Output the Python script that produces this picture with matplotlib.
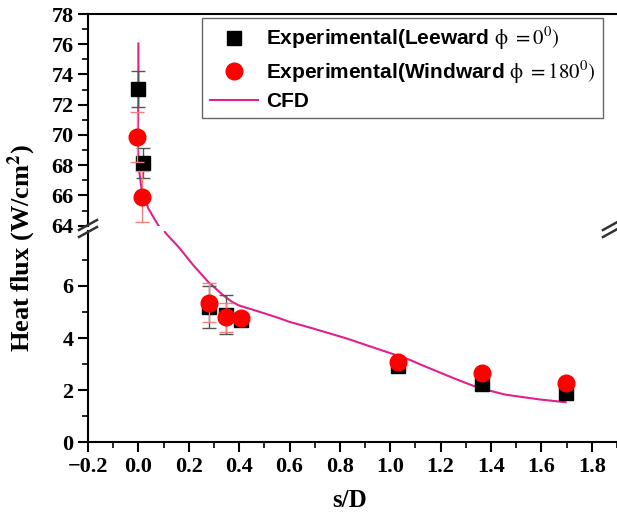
import numpy as np
import matplotlib.pyplot as plt
from matplotlib.lines import Line2D

# measured heat flux vs. s/D
s_lee = [0.0, 0.017, 0.279, 0.347, 0.406, 1.032, 1.364, 1.697]
q_lee = [73.05, 68.15, 5.2, 4.9, 4.7, 2.92, 2.23, 1.88]
e_lee = [1.2, 1.0, 0.8, 0.75, 0.15, 0.15, 0.1, 0.1]

s_wind = [-0.005, 0.013, 0.279, 0.347, 0.406, 1.032, 1.364, 1.697]
q_wind = [69.85, 65.93, 5.35, 4.8, 4.78, 3.08, 2.65, 2.27]
e_wind = [1.65, 1.66, 0.75, 0.55, 0.15, 0.1, 0.1, 0.1]

# CFD prediction
s_cfd = [0.0, 0.0, -0.002, 0.0, 0.012, 0.039, 0.078, 0.085,
         0.105, 0.164, 0.217, 0.276, 0.336, 0.37, 0.40, 0.44, 0.5,
         0.56, 0.6, 0.692, 0.824, 0.956, 1.036, 1.08, 1.12, 1.16,
         1.2, 1.25, 1.3, 1.352, 1.4, 1.458, 1.59, 1.696]
q_cfd = [76.05, 72.49, 69.82, 68.05, 66.49, 65.15, 64.05, 63.9,
         8.07, 7.45, 6.81, 6.17, 5.65, 5.40, 5.25, 5.13, 4.95,
         4.76, 4.62, 4.37, 3.99, 3.56, 3.30, 3.15, 2.98, 2.82,
         2.66, 2.46, 2.27, 2.08, 1.96, 1.82, 1.64, 1.53]

plt.rcParams['mathtext.fontset'] = 'stix'
serif = 'Liberation Serif'
tick_size = 16

fig = plt.figure(figsize=(6.17, 5.17), dpi=100)
left, width = 88 / 617, 529 / 617
top_h = 211.7 / 517
ax_top = fig.add_axes([left, 1 - 225.7 / 517, width, top_h])
ax_bot = fig.add_axes([left, 1 - 442 / 517, width, 210.6 / 517])

for ax in (ax_top, ax_bot):
    ax.plot(s_cfd, q_cfd, color='#e0208c', lw=1.5, zorder=1)
    ax.errorbar(s_lee, q_lee, yerr=e_lee, fmt='s', color='black', ms=10,
                ecolor='#555555', elinewidth=1, capsize=5, zorder=3)
    ax.errorbar(s_wind, q_wind, yerr=e_wind, fmt='o', color='#ff0000', ms=12,
                ecolor='#f08080', elinewidth=1, capsize=5, zorder=4)
    ax.set_xlim(-0.2, 1.9)
    for sp in ax.spines.values():
        sp.set_linewidth(1.5)
    ax.spines['right'].set_visible(False)
    ax.tick_params(which='major', direction='out', length=7, width=1.5)
    ax.tick_params(which='minor', direction='out', length=4, width=1.2)

ax_top.set_ylim(64, 78)
ax_top.set_yticks(np.arange(64, 79, 2))
ax_top.set_yticks(np.arange(65, 78, 2), minor=True)
ax_top.spines['bottom'].set_visible(False)
ax_top.set_xticks([])

ax_bot.set_ylim(0, 8.1)
ax_bot.set_yticks([0, 2, 4, 6])
ax_bot.set_yticks([1, 3, 5, 7], minor=True)
ax_bot.spines['top'].set_visible(False)
ax_bot.set_xticks(np.arange(-0.2, 1.81, 0.2))
ax_bot.set_xticks(np.arange(-0.1, 1.91, 0.2), minor=True)
ax_bot.set_xticklabels(['\u22120.2', '0.0', '0.2', '0.4', '0.6', '0.8',
                        '1.0', '1.2', '1.4', '1.6', '1.8'])

for ax in (ax_top, ax_bot):
    for lab in ax.get_xticklabels() + ax.get_yticklabels():
        lab.set_fontfamily(serif)
        lab.set_fontweight('bold')
        lab.set_fontsize(tick_size)

# break marks on the y axis
y_brk = 1 - 228.5 / 517
for xc in (left, 612 / 617):
    for dy in (-3.5 / 517, 3.5 / 517):
        fig.add_artist(plt.Line2D([xc - 9 / 617, xc + 9 / 617],
                                  [y_brk + dy - 5 / 517, y_brk + dy + 5 / 517],
                                  color='#333333', lw=1.8))

handles = [
    Line2D([], [], ls='none', marker='s', color='black', ms=10),
    Line2D([], [], ls='none', marker='o', color='#ff0000', ms=12),
    Line2D([], [], color='#e0208c', lw=1.5),
]
labels = [r'Experimental(Leeward $\mathrm{\phi\ =0^0)}$',
          r'Experimental(Windward $\mathrm{\phi\ =180^0)}$',
          'CFD']
leg = ax_top.legend(handles, labels, loc='upper right',
                    bbox_to_anchor=((603 - 88) / 529, (225.7 - 18) / 211.7),
                    bbox_transform=ax_top.transAxes,
                    prop={'family': 'Liberation Sans', 'weight': 'bold', 'size': 15},
                    fancybox=False, edgecolor='#666666', framealpha=1,
                    handlelength=2.3, borderpad=0.35, labelspacing=0.3,
                    handletextpad=0.4, borderaxespad=0)
leg.get_frame().set_linewidth(1.0)

fig.text(0.036, 0.52, r'Heat flux (W/cm$^\mathbf{2}$)', rotation=90, ha='center',
         va='center', fontfamily=serif, fontweight='bold', fontsize=19)
fig.text(0.567, 0.032, 's/D', ha='center', va='center', fontfamily=serif,
         fontweight='bold', fontsize=18)

fig.savefig('out.png', dpi=100)
